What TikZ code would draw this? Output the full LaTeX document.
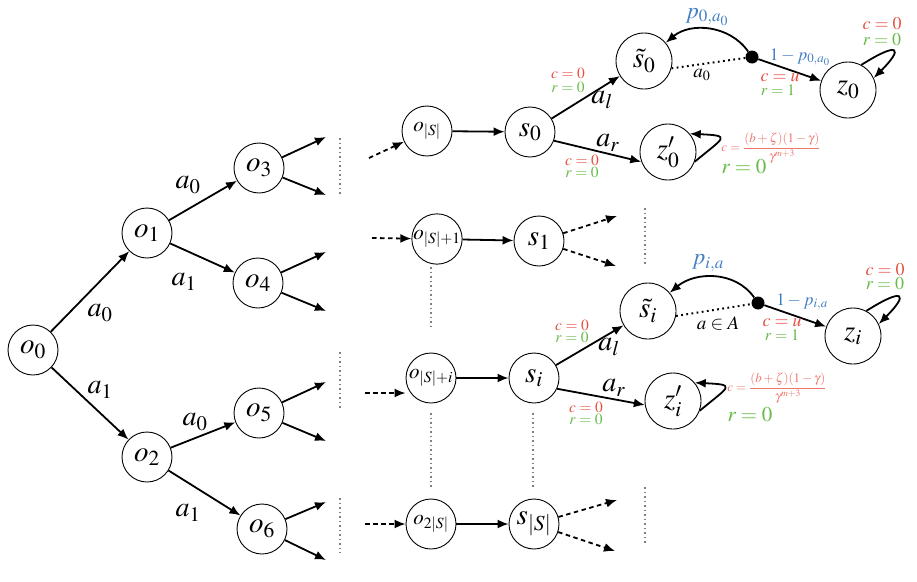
\documentclass[tikz,border=0pt]{standalone}
\usepackage{mathptmx}
\usetikzlibrary{arrows.meta}
\definecolor{cred}{RGB}{232,78,66}
\definecolor{cred2}{RGB}{238,118,108}
\definecolor{cgreen}{RGB}{104,186,72}
\definecolor{cblue}{RGB}{66,126,196}
\begin{document}
\begin{tikzpicture}[x=1pt,y=-1pt,
  st/.style={circle,draw,line width=0.9pt,minimum size=50pt,inner sep=0pt,font=\fontsize{29}{33}\selectfont},
  sm/.style={st,font=\fontsize{21}{24}\selectfont},
  lg/.style={st,minimum size=56pt},
  arr/.style={-{Latex[length=11pt,width=9pt]},line width=1.8pt},
  darr/.style={arr,dash pattern=on 4.5pt off 3.5pt},
  vdots/.style={gray,line width=1.5pt,dash pattern=on 1.5pt off 3pt},
  hdots/.style={line width=2pt,dash pattern=on 1.8pt off 3.4pt},
  lab/.style={inner sep=0pt,font=\fontsize{28}{32}\selectfont},
  mlab/.style={inner sep=0pt,font=\fontsize{19}{22}\selectfont},
  slab/.style={inner sep=0pt,font=\fontsize{15.5}{18}\selectfont},
  zlab/.style={inner sep=0pt,font=\fontsize{18}{21}\selectfont},
  dotn/.style={circle,fill,inner sep=0pt,minimum size=13pt}
]
\useasboundingbox (0,0) rectangle (917,581);

% ---- tree ----
\node[st] (o0) at (33,350) {$o_0$};
\node[st] (o1) at (147,233) {$o_1$};
\node[st] (o2) at (147,457) {$o_2$};
\node[st] (o3) at (259,168) {$o_3$};
\node[st] (o4) at (258,283) {$o_4$};
\node[st] (o5) at (259,413) {$o_5$};
\node[st] (o6) at (262,529) {$o_6$};

\draw[arr] (o0) -- (o1);
\draw[arr] (o0) -- (o2);
\draw[arr] (o1) -- (o3);
\draw[arr] (o1) -- (o4);
\draw[arr] (o2) -- (o5);
\draw[arr] (o2) -- (o6);

\node[lab] (la1) at (100,313) {$a_0$};
\node[lab] (la2) at (100,390) {$a_1$};
\node[lab] (la3) at (188,185) {$a_0$};
\node[lab] (la4) at (184,282) {$a_1$};
\node[lab] (la5) at (195,422) {$a_0$};
\node[lab] (la6) at (188,513) {$a_1$};

\coordinate (e3a) at (326,137); \coordinate (e3b) at (326,195);
\coordinate (e4a) at (326,252); \coordinate (e4b) at (326,311);
\coordinate (e5a) at (326,382); \coordinate (e5b) at (326,441);
\coordinate (e6a) at (326,502); \coordinate (e6b) at (326,560);
\draw[arr] (o3) -- (e3a); \draw[arr] (o3) -- (e3b);
\draw[arr] (o4) -- (e4a); \draw[arr] (o4) -- (e4b);
\draw[arr] (o5) -- (e5a); \draw[arr] (o5) -- (e5b);
\draw[arr] (o6) -- (e6a); \draw[arr] (o6) -- (e6b);

% vertical dotted lines
\coordinate (v1a) at (340,138); \coordinate (v1b) at (340,195);
\coordinate (v2a) at (340,352); \coordinate (v2b) at (340,408);
\coordinate (v3a) at (340,498); \coordinate (v3b) at (340,553);
\draw[vdots] (v1a) -- (v1b);
\draw[vdots] (v2a) -- (v2b);
\draw[vdots] (v3a) -- (v3b);

% ---- middle ----
\node[sm] (oS) at (427,131) {$o_{|S|}$};
\node[sm] (oS1) at (437,239) {$o_{|S|+1}$};
\node[sm] (oSi) at (431,378) {$o_{|S|+i}$};
\node[sm] (o2S) at (431,524) {$o_{2|S|}$};
\node[st] (s0) at (530,132) {$s_0$};
\node[st] (s1) at (539,241) {$s_1$};
\node[st] (si) at (534,378) {$s_i$};
\node[st] (sS) at (534,524) {$s_{|S|}$};

\coordinate (i1) at (369,158);
\coordinate (i2) at (372,238);
\coordinate (i3) at (365,393);
\coordinate (i4) at (365,524);
\draw[darr] (i1) -- (oS);
\draw[darr] (i2) -- (oS1);
\draw[darr] (i3) -- (i3 -| oSi.west);
\draw[darr] (i4) -- (o2S);

\draw[arr] (oS) -- (s0);
\draw[arr] (oS1) -- (s1);
\draw[arr] (oSi) -- (si);
\draw[arr] (o2S) -- (sS);

\coordinate (s1a) at (617,216); \coordinate (s1b) at (616,266);
\coordinate (sSa) at (617,500); \coordinate (sSb) at (615,551);
\draw[darr] (s1) -- (s1a); \draw[darr] (s1) -- (s1b);
\draw[darr] (sS) -- (sSa); \draw[darr] (sS) -- (sSb);

\coordinate (w1a) at (645,208); \coordinate (w1b) at (645,265);
\coordinate (w2a) at (645,487); \coordinate (w2b) at (645,543);
\coordinate (w3a) at (431,267); \coordinate (w3b) at (431,330);
\coordinate (w4a) at (431,413); \coordinate (w4b) at (431,487);
\coordinate (w5a) at (533,413); \coordinate (w5b) at (533,487);
\draw[vdots] (w1a) -- (w1b);
\draw[vdots] (w2a) -- (w2b);
\draw[vdots] (w3a) -- (w3b);
\draw[vdots] (w4a) -- (w4b);
\draw[vdots] (w5a) -- (w5b);

% ---- group 0 ----
\node[lg] (st0) at (644,61) {$\tilde{s}_0$};
\node[lg] (z0) at (848,90) {$z_0$};
\node[lg] (zp0) at (668,152) {$z'_0$};
\node[dotn] (d0) at (752,57) {};

\draw[arr] (s0) -- (st0);
\draw[arr] (s0.-20) -- (zp0.200);
\draw[hdots] (st0.-15) -- (d0);
\draw[arr] (d0) to[out=125,in=40] (st0);
\draw[arr] (d0) -- (z0);
\draw[arr] (z0.62) .. controls +(38,-24) and +(30,-30) .. (z0.25);
\draw[arr] (zp0.-20) .. controls +(30,-25) and +(42,2) .. (zp0.40);

\node[slab,text=cred] (c01) at (568,73) {$c=0$};
\node[slab,text=cgreen] (r01) at (568,87) {$r=0$};
\node[lab] (al0) at (602,100) {$a_l$};
\node[lab] (ar0) at (608,143) {$a_r$};
\node[slab,text=cred] (c02) at (582,160) {$c=0$};
\node[slab,text=cgreen] (r02) at (582,172) {$r=0$};
\node[mlab] (a00) at (702,75) {$a_0$};
\node[inner sep=0pt,font=\fontsize{23}{27}\selectfont,text=cblue] (p0) at (707,17) {$p_{0,a_0}$};
\node[inner sep=0pt,font=\fontsize{17.5}{20}\selectfont,text=cblue] (q0) at (800,57) {$1-p_{0,a_0}$};
\node[zlab,text=cred] (cu0) at (780,78) {$c=u$};
\node[slab,font=\fontsize{16}{18}\selectfont,text=cgreen] (r10) at (778,90) {$r=1$};
\node[zlab,text=cred] (cz0) at (882,24) {$c=0$};
\node[zlab,text=cgreen] (rz0) at (882,40) {$r=0$};
\node[inner sep=0pt,font=\fontsize{13}{15}\selectfont,text=cred2] (f0) at (771,148) {$c=\displaystyle\frac{(b+\zeta)(1-\gamma)}{\gamma^{m+3}}$};
\node[inner sep=0pt,font=\fontsize{21}{24}\selectfont,text=cgreen] (rf0) at (744,167) {$r=0$};

% ---- group i ----
\node[lg] (sti) at (648,311) {$\tilde{s}_i$};
\node[lg] (zi) at (853,336) {$z_i$};
\node[lg] (zpi) at (673,401) {$z'_i$};
\node[dotn] (di) at (758,303) {};

\draw[arr] (si) -- (sti);
\draw[arr] (si.-25) -- (zpi.188);
\draw[hdots] (sti.-10) -- (di);
\draw[arr] (di) to[out=125,in=40] (sti);
\draw[arr] (di) -- (zi);
\draw[arr] (zi.62) .. controls +(38,-24) and +(30,-30) .. (zi.25);
\draw[arr] (zpi.-20) .. controls +(30,-25) and +(42,2) .. (zpi.40);

\node[slab,text=cred] (c11) at (572,325) {$c=0$};
\node[slab,text=cgreen] (r11) at (572,337) {$r=0$};
\node[lab] (ali) at (609,347) {$a_l$};
\node[lab] (ari) at (614,388) {$a_r$};
\node[slab,text=cred] (c12) at (586,407) {$c=0$};
\node[slab,text=cgreen] (r12) at (586,419) {$r=0$};
\node[mlab] (aA) at (718,323) {$a\in A$};
\node[inner sep=0pt,font=\fontsize{23}{27}\selectfont,text=cblue] (pi) at (708,263) {$p_{i,a}$};
\node[inner sep=0pt,font=\fontsize{17.5}{20}\selectfont,text=cblue] (qi) at (802,302) {$1-p_{i,a}$};
\node[zlab,text=cred] (cui) at (782,323) {$c=u$};
\node[slab,font=\fontsize{16}{18}\selectfont,text=cgreen] (r1i) at (782,335) {$r=1$};
\node[zlab,text=cred] (czi) at (885,270) {$c=0$};
\node[zlab,text=cgreen] (rzi) at (885,284) {$r=0$};
\node[inner sep=0pt,font=\fontsize{13}{15}\selectfont,text=cred2] (fi) at (777,388) {$c=\displaystyle\frac{(b+\zeta)(1-\gamma)}{\gamma^{m+3}}$};
\node[inner sep=0pt,font=\fontsize{21}{24}\selectfont,text=cgreen] (rfi) at (750,415) {$r=0$};
\end{tikzpicture}
\end{document}
